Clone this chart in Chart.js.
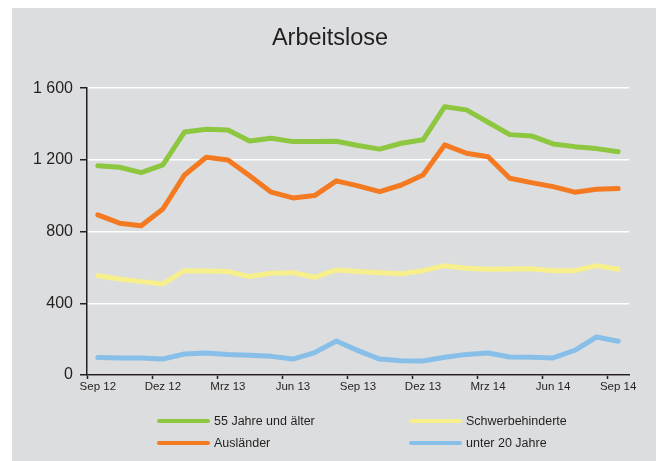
<!DOCTYPE html>
<html>
<head>
<meta charset="utf-8">
<script src="https://cdn.jsdelivr.net/npm/chart.js@4"></script>
<style>
  html, body { margin: 0; padding: 0; background: #ffffff; width: 659px; height: 461px; overflow: hidden; }
  #box { position: absolute; left: 12px; top: 8px; width: 644px; height: 453px; background: #dcdddf; }
  #box canvas { position: absolute; left: 0; top: 0; }
  .lg { position: absolute; font-family: "Liberation Sans", Arial, sans-serif; font-size: 12.5px; color: #231f20; line-height: 14px; white-space: nowrap; }
  .sw { position: absolute; height: 4px; width: 53px; border-radius: 2px; }
</style>
</head>
<body>
<div id="box"><canvas id="c" width="644" height="453"></canvas></div>
<div id="legend"></div>
<script>
const categories = ["Sep 12","Okt 12","Nov 12","Dez 12","Jan 13","Feb 13","Mrz 13","Apr 13","Mai 13","Jun 13","Jul 13","Aug 13","Sep 13","Okt 13","Nov 13","Dez 13","Jan 14","Feb 14","Mrz 14","Apr 14","Mai 14","Jun 14","Jul 14","Aug 14","Sep 14"];
const seriesNames = ["55 Jahre und älter", "Schwerbehinderte", "Ausländer", "unter 20 Jahre"];
const ueber55 = [1168,1159,1129,1172,1356,1371,1367,1306,1321,1302,1302,1304,1280,1260,1293,1312,1497,1479,1410,1341,1334,1289,1274,1263,1246];
const schwerbehinderte = [554,536,521,508,582,580,577,549,568,571,545,586,577,571,565,582,610,595,590,592,593,582,582,610,590];
const auslaender = [893,847,833,926,1116,1215,1200,1111,1020,988,1001,1083,1055,1023,1060,1116,1284,1237,1218,1098,1073,1051,1020,1036,1040];
const unter20 = [97,95,95,89,117,123,115,110,104,89,125,190,136,89,80,78,99,115,123,100,99,95,138,212,188];
const yTicks = [0, 400, 800, 1200, 1600];

const colors = { ueber55: "#8dc63f", schwer: "#f6ef8b", ausl: "#f47a22", u20: "#88bfe8" };
const FONT = "'Liberation Sans', Arial, sans-serif";
const TXT = "#231f20";

function fmt(v) { return String(v).replace(/\B(?=(\d{3})+(?!\d))/g, " "); }

function ds(label, data, color) {
  return { label, data, borderColor: color, backgroundColor: color, borderWidth: 5,
    pointRadius: 0, pointHoverRadius: 0, tension: 0, fill: false,
    borderCapStyle: "round", borderJoinStyle: "round" };
}

new Chart(document.getElementById("c"), {
  type: "line",
  data: {
    labels: categories,
    datasets: [
      ds(seriesNames[0], ueber55, colors.ueber55),
      ds(seriesNames[1], schwerbehinderte, colors.schwer),
      ds(seriesNames[2], auslaender, colors.ausl),
      ds(seriesNames[3], unter20, colors.u20)
    ]
  },
  options: {
    responsive: false,
    animation: false,
    events: [],
    layout: { padding: { left: 19, right: 27, top: 0, bottom: 0 } },
    plugins: {
      legend: { display: false },
      tooltip: { enabled: false },
      title: {
        display: true, text: "Arbeitslose", color: TXT,
        font: { family: FONT, size: 23.5, weight: "normal" },
        padding: { top: 16, bottom: 36 }
      }
    },
    scales: {
      x: {
        offset: true,
        afterFit(scale) { scale.height = 86; },
        grid: { offset: true, drawOnChartArea: false, drawTicks: true, tickLength: 4,
          tickColor: (ctx) => (ctx.index % 3 === 0 ? TXT : "rgba(0,0,0,0)"), tickWidth: 1.5 },
        border: { display: true, color: TXT, width: 1.5 },
        ticks: { autoSkip: false, maxRotation: 0, minRotation: 0, padding: 1, color: TXT,
          font: { family: FONT, size: 11.5 },
          callback: function (v, i) { return i % 3 === 0 ? categories[i] : ""; } }
      },
      y: {
        min: 0, max: 1600,
        afterFit(scale) { scale.width = 56; },
        afterBuildTicks(scale) { scale.ticks = yTicks.map(v => ({ value: v })); },
        grid: { color: "#ffffff", lineWidth: 1.5, tickColor: TXT, tickLength: 7, tickWidth: 1.5 },
        border: { display: true, color: TXT, width: 1.5 },
        ticks: { padding: 7, color: TXT, font: { family: FONT, size: 16 }, callback: (v) => fmt(v) }
      }
    }
  }
});

// HTML legend in two columns
const legendItems = [
  { name: seriesNames[0], color: colors.ueber55, x: 157, y: 421 },
  { name: seriesNames[1], color: colors.schwer, x: 409, y: 421 },
  { name: seriesNames[2], color: colors.ausl, x: 157, y: 443 },
  { name: seriesNames[3], color: colors.u20, x: 409, y: 443 }
];
const lg = document.getElementById("legend");
legendItems.forEach(it => {
  const s = document.createElement("div");
  s.className = "sw"; s.style.background = it.color;
  s.style.left = it.x + "px"; s.style.top = (it.y - 2) + "px";
  lg.appendChild(s);
  const t = document.createElement("div");
  t.className = "lg"; t.textContent = it.name;
  t.style.left = (it.x + 57) + "px"; t.style.top = (it.y - 7) + "px";
  lg.appendChild(t);
});
</script>
</body>
</html>
